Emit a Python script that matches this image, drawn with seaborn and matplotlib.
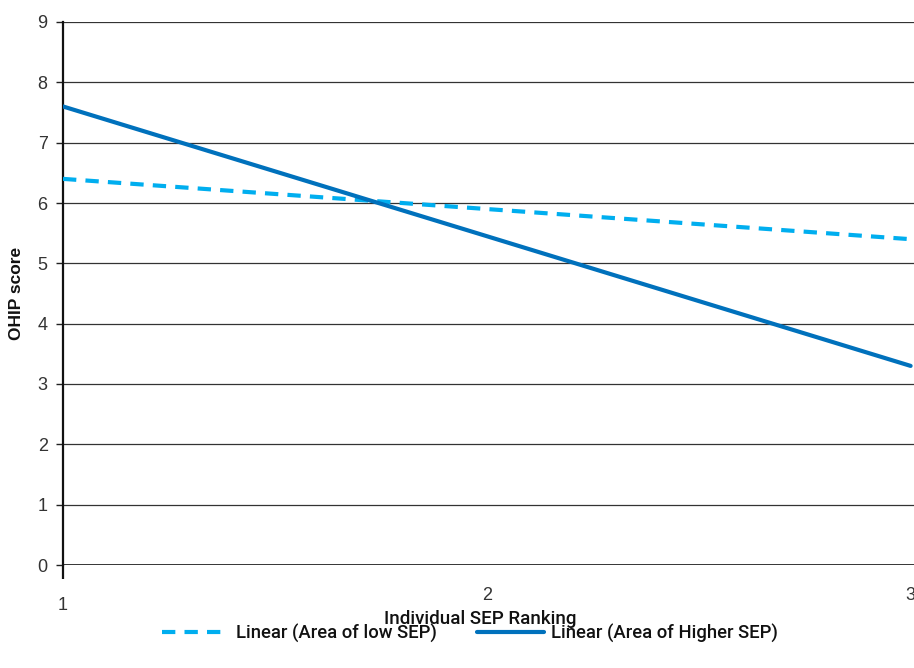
import matplotlib
matplotlib.use("Agg")
import matplotlib.pyplot as plt
import seaborn as sns
import pandas as pd

x_rank = [1, 2, 3]
low_sep = [6.4, 5.9, 5.4]
high_sep = [7.6, 5.45, 3.3]
series_names = ["Linear (Area of low SEP)", "Linear (Area of Higher SEP)"]
y_ticks = list(range(0, 10))
x_ticks = [1, 2, 3]

sns.set_theme(style="white")
plt.rcParams['font.family'] = ['Liberation Sans', 'DejaVu Sans']

fig = plt.figure(figsize=(9.14, 6.68), dpi=100)
ax = fig.add_axes([63/914, 1-565/668, 1-63/914, (565-22)/668])

df_low = pd.DataFrame({"x": x_rank, "y": low_sep})
df_high = pd.DataFrame({"x": x_rank, "y": high_sep})

for yv in y_ticks[1:]:
    ax.axhline(yv, color="#333333", lw=0.9, zorder=1)
ax.axhline(0, color="#222222", lw=2.0, zorder=1)

sns.lineplot(data=df_low, x="x", y="y", ax=ax, color="#00AEEF", lw=3.0,
             label=series_names[0], zorder=3)
ax.lines[-1].set_dashes([3.2, 2.2])
sns.lineplot(data=df_high, x="x", y="y", ax=ax, color="#0071BC", lw=3.0,
             label=series_names[1], zorder=3)

ax.set_xlim(1, 3.008)
ax.set_ylim(0, 9)
ax.set_xticks(x_ticks)
ax.set_yticks(y_ticks)
ax.set_xticklabels([str(v) for v in x_ticks])
ax.set_yticklabels([str(v) for v in y_ticks])

for s in ["top", "right", "bottom"]:
    ax.spines[s].set_visible(False)
ax.spines["left"].set_color("#111111")
ax.spines["left"].set_linewidth(1.6)

ax.tick_params(axis="y", left=True, length=5, width=1, color="#222222",
               labelsize=13, labelcolor="#333333", pad=6)
ax.tick_params(axis="x", bottom=True, length=10, width=1.6, color="#111111",
               labelsize=13, labelcolor="#333333", pad=6)
xt = ax.xaxis.get_major_ticks()
xt[1].tick1line.set_visible(False)
xt[2].tick1line.set_visible(False)
xt[0].set_pad(13)

ax.set_xlabel("Individual SEP Ranking", fontsize=13.5, color="#111111",
              family=["Roboto", "DejaVu Sans"], fontweight="medium")
ax.xaxis.set_label_coords(0.49, -0.083)
ax.xaxis.label.set_va("top")
ax.set_ylabel("OHIP score", fontsize=12.5, fontweight="bold", color="#111111", labelpad=10)

ax.get_legend().remove()
h, l = ax.get_legend_handles_labels()
fig.legend(h, l, loc="center", bbox_to_anchor=(0.514, 0.052), ncol=2, frameon=False,
           prop={"family": ["Roboto", "DejaVu Sans"], "weight": "medium", "size": 13.3},
           handlelength=3.6, columnspacing=2.2, handletextpad=0.4, labelcolor="#111111")

for t in ax.get_yticklabels() + ax.get_xticklabels():
    t.set_fontweight("light")

fig.savefig("out.png", dpi=100)
